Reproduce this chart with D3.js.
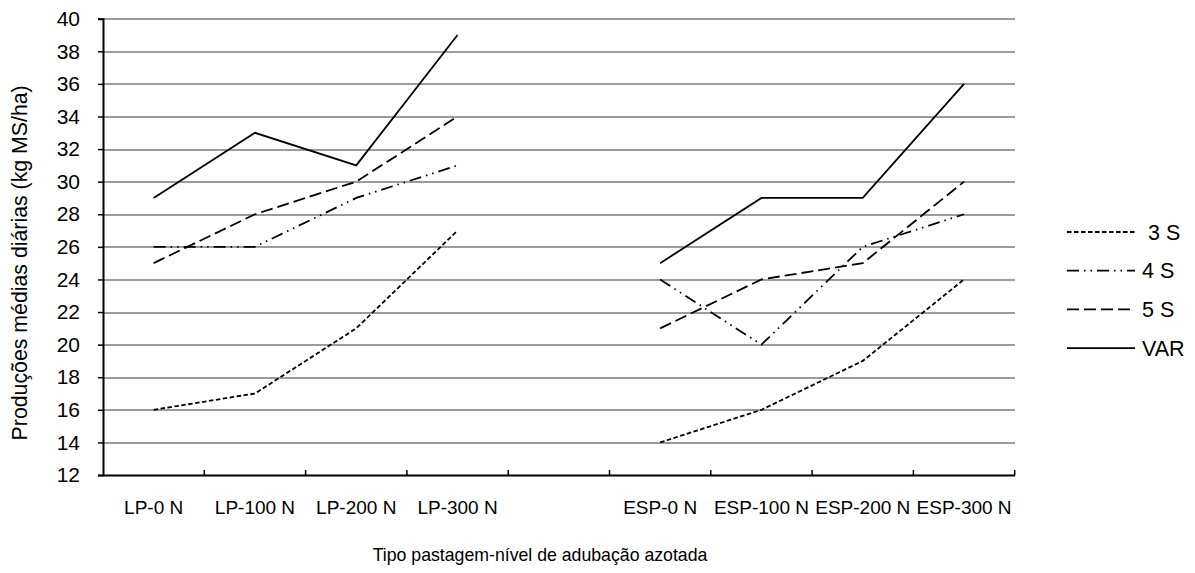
<!DOCTYPE html>
<html lang="pt">
<head>
<meta charset="UTF-8">
<title>Produções médias diárias</title>
<script src="https://d3js.org/d3.v7.min.js"></script>
<style>
    body { margin: 0; background: #fff; }
    svg text { font-family: "Liberation Sans", Arial, sans-serif; fill: #000; }
    .grid line { stroke: #9c9c9c; stroke-width: 2; shape-rendering: crispEdges; }
    .grid path { display: none; }
</style>
</head>
<body>
<svg width="1195" height="573"></svg>
<script>
    // data
    const categories = ["LP-0 N", "LP-100 N", "LP-200 N", "LP-300 N", "",
                        "ESP-0 N", "ESP-100 N", "ESP-200 N", "ESP-300 N"];
    const yTicks = [12, 14, 16, 18, 20, 22, 24, 26, 28, 30, 32, 34, 36, 38, 40];
    const seriesNames = [" 3 S", "4 S", "5 S", "VAR"];
    const s3 = [16, 17, 21, 27, null, 14, 16, 19, 24];
    const s4 = [26, 26, 29, 31, null, 24, 20, 26, 28];
    const s5 = [25, 28, 30, 34, null, 21, 24, 25, 30];
    const sVar = [29, 33, 31, 39, null, 25, 29, 29, 36];
    const seriesValues = [s3, s4, s5, sVar];
    const dashes = ["4.5,2.5", "12,5,1.5,5,1.5,5", "12,5", null];

    const svg = d3.select("svg");
    const margin = { left: 103, top: 18.7, right: 1195 - 1014.7, bottom: 573 - 475 };
    const width = 1195 - margin.left - margin.right;
    const height = 573 - margin.top - margin.bottom;

    const g = svg.append("g").attr("transform", `translate(${margin.left},${margin.top})`);

    const x = d3.scaleBand().domain(d3.range(categories.length)).range([0, width]).padding(0);
    const y = d3.scaleLinear().domain([12, 40]).range([height, 0]);

    // horizontal gridlines
    g.append("g")
        .attr("class", "grid")
        .call(d3.axisLeft(y).tickValues(yTicks.filter(v => v > 12)).tickSize(-width).tickFormat(""));

    // y axis
    const yAxis = g.append("g")
        .call(d3.axisLeft(y).tickValues(yTicks).tickSize(5).tickPadding(18));
    yAxis.select(".domain").attr("stroke", "#000").attr("stroke-width", 2);
    yAxis.selectAll(".tick line").attr("stroke", "#000").attr("stroke-width", 1.5);
    yAxis.selectAll("text").style("font-size", "21px");

    // x axis: labels centred in bands, ticks between bands (pointing inward)
    const xAxis = g.append("g")
        .attr("transform", `translate(0,${height})`)
        .call(d3.axisBottom(x).tickSize(0).tickPadding(26).tickFormat(i => categories[i]));
    xAxis.select(".domain").attr("stroke", "#000").attr("stroke-width", 2);
    xAxis.selectAll("text").style("font-size", "19px");

    const bounds = d3.range(1, categories.length + 1).map(i => i * x.step());
    xAxis.selectAll(".sep")
        .data(bounds)
        .join("line")
        .attr("class", "sep")
        .attr("x1", d => d).attr("x2", d => d)
        .attr("y1", 0).attr("y2", -5)
        .attr("stroke", "#000").attr("stroke-width", 1.5);

    // series lines
    const line = d3.line()
        .defined(d => d != null)
        .x((d, i) => x(i) + x.bandwidth() / 2)
        .y(d => y(d));

    g.selectAll(".series")
        .data(seriesValues)
        .join("path")
        .attr("class", "series")
        .attr("fill", "none")
        .attr("stroke", "#000")
        .attr("stroke-width", 1.8)
        .attr("stroke-dasharray", (d, i) => dashes[i])
        .attr("d", d => line(d));

    // axis titles
    svg.append("text")
        .attr("x", 540)
        .attr("y", 561)
        .attr("text-anchor", "middle")
        .style("font-size", "17.7px")
        .text("Tipo pastagem-nível de adubação azotada");

    svg.append("text")
        .attr("transform", `translate(27,${margin.top + height / 2 + 16}) rotate(-90)`)
        .attr("text-anchor", "middle")
        .style("font-size", "21.3px")
        .text("Produções médias diárias (kg MS/ha)");

    // legend
    const legend = svg.append("g").attr("transform", "translate(1067,232)");
    const item = legend.selectAll(".item")
        .data(seriesNames)
        .join("g")
        .attr("transform", (d, i) => `translate(0,${i * 38.7})`);
    item.append("line")
        .attr("x1", 0).attr("x2", 68)
        .attr("stroke", "#000").attr("stroke-width", 1.8)
        .attr("stroke-dasharray", (d, i) => dashes[i]);
    item.append("text")
        .attr("x", 75)
        .attr("dy", "0.35em")
        .style("font-size", "21.5px")
        .style("white-space", "pre")
        .text(d => d);
</script>
</body>
</html>
